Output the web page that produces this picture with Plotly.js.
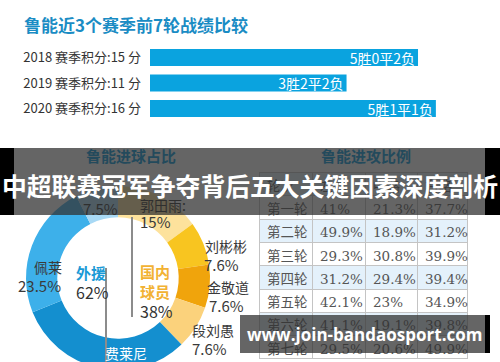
<!DOCTYPE html>
<html>
<head>
<meta charset="utf-8">
<script src="https://cdn.plot.ly/plotly-3.0.1.min.js"></script>
<style>
html,body{margin:0;padding:0;overflow:hidden;background:#fff;}
#chart{width:500px;height:380px;}
</style>
</head>
<body>
<div id="chart"></div>
<script>
// ---------- DATA ----------
const mainTitle = '中超联赛冠军争夺背后五大关键因素深度剖析';
const barTitle = '鲁能近3个赛季前7轮战绩比较';
const seasons = ['2018', '2019', '2020'];
const seasonPoints = [15, 11, 16];
const seasonRecords = ['5胜0平2负', '3胜2平2负', '5胜1平1负'];

const pieTitle = '鲁能进球占比';
const scorerNames = ['郭田雨', '刘彬彬', '金敬道', '段刘愚', '费莱尼', '佩莱', '莫伊塞斯'];
const scorerShares = [15, 7.6, 7.6, 7.6, 31, 23.5, 7.5];
const groupNames = ['外援', '国内<br>球员'];
const groupShares = [62, 38];

const tableTitle = '鲁能进攻比例';
const tableHeader = ['轮次', '左路', '中路', '右路'];
const rounds = ['第一轮', '第二轮', '第三轮', '第四轮', '第五轮', '第六轮', '第七轮'];
const leftShare = ['41%', '49.9%', '29.3%', '31.2%', '42.1%', '41.1%', '29.5%'];
const centerShare = ['21.3%', '18.9%', '30.8%', '29.4%', '23%', '19.1%', '20.6%'];
const rightShare = ['37.7%', '31.2%', '39.9%', '39.4%', '34.9%', '39.8%', '49.9%'];

const watermark = 'www.join-bandaosport.com';

// ---------- LAYOUT HELPERS ----------
const W = 500, H = 380;
const X = x => x / W;
const Y = y => 1 - y / H;
const CJK = '"Noto Sans CJK SC", "Noto Sans", sans-serif';
const BAND = 'rgba(50,50,50,0.75)';

// ---------- TRACES ----------
const bars = {
  type: 'bar', orientation: 'h',
  y: seasons.map((s, i) => s + ' 赛季积分:' + seasonPoints[i] + ' 分'),
  x: seasonPoints,
  width: 0.67,
  marker: {color: '#0aa3df', line: {width: 0}},
  text: seasonRecords,
  textposition: 'inside', insidetextanchor: 'end', constraintext: 'none',
  textfont: {family: CJK, size: 14, color: '#ffffff'},
  xaxis: 'x', yaxis: 'y', hoverinfo: 'none', cliponaxis: false
};

const pieColors = ['#fde29c', '#f8c520', '#f0a40c', '#fbd27c', '#148fcf', '#3db0ea', '#a8d9f5'];
const donut = {
  type: 'pie', labels: scorerNames, values: scorerShares,
  sort: false, direction: 'clockwise', rotation: 0, hole: 0.66,
  marker: {colors: pieColors, line: {width: 0}},
  textinfo: 'none', hoverinfo: 'none',
  domain: {x: [X(26), X(210)], y: [Y(370), Y(186)]}
};

const rowFill = ['#ffffff', '#e4f1fb', '#ffffff', '#e4f1fb', '#ffffff', '#e4f1fb', '#ffffff'];
const tableFont = {family: '"DejaVu Serif", ' + CJK, size: 13.5, color: '#555'};
const table = {
  type: 'table',
  domain: {x: [X(259), X(467)], y: [Y(379), Y(172.5)]},
  columnwidth: [53, 53, 52, 50],
  header: {
    values: tableHeader, height: 23.3, align: 'left',
    fill: {color: '#e4f1fb'}, line: {color: '#c4c4c4', width: 1},
    font: tableFont
  },
  cells: {
    values: [rounds, leftShare, centerShare, rightShare], height: 23.3, align: 'left',
    fill: {color: [rowFill, rowFill, rowFill, rowFill]},
    line: {color: '#c4c4c4', width: 1},
    font: tableFont
  }
};

// ---------- ANNOTATIONS ----------
const ann = [];
function txt(text, x, y, opt) {
  ann.push(Object.assign({
    text: text, xref: 'paper', yref: 'paper', x: X(x), y: Y(y),
    xanchor: 'left', yanchor: 'middle', showarrow: false,
    font: {family: CJK, size: 14, color: '#3a3a3a'}
  }, opt || {}));
}
txt('<b>' + barTitle + '</b>', 22, 25, {font: {family: CJK, size: 17, color: '#1a8cc4'}});

// donut labels: [nameX, nameY, valueX, valueY, nameColor, valueColor]; null = not visible
const labelPos = [
  [138, 205, 138, 221, '#2f2f2f', '#3a3a3a'],
  [203, 246, 202, 264, '#3a3a3a', '#3a3a3a'],
  [205, 287, 207, 305, '#3a3a3a', '#3a3a3a'],
  [190, 330, 190, 348, '#3a3a3a', '#3a3a3a'],
  [103, 353, null, null, '#ffffff', '#ffffff'],
  [32, 267, 16, 285, '#3a3a3a', '#3a3a3a'],
  [null, null, 81, 208, '#2f2f2f', '#2f2f2f']
];
scorerNames.forEach((n, i) => {
  const p = labelPos[i];
  if (p[0] !== null) txt(n + (i === 0 ? ':' : ''), p[0], p[1], {font: {family: CJK, size: 14, color: p[4]}});
  if (p[2] !== null) txt(scorerShares[i] + '%', p[2], p[3], {font: {family: CJK, size: 15, color: p[5]}});
});
// group labels
txt('<b>' + groupNames[0] + '</b>', 74, 272, {font: {family: CJK, size: 15, color: '#1a9ad6'}});
txt(groupShares[0] + '%', 74, 292, {font: {family: CJK, size: 16, color: '#333'}});
txt('<b>' + groupNames[1] + '</b>', 138, 281, {font: {family: CJK, size: 15, color: '#f2b233'}});
txt(groupShares[1] + '%', 138, 311, {font: {family: CJK, size: 16, color: '#333'}});

// section titles (under band, pre-darkened)
txt('<b>' + pieTitle + '</b>', 131, 155, {xanchor: 'center', font: {family: CJK, size: 15, color: '#234a5c'}});
txt('<b>' + tableTitle + '</b>', 366, 155, {xanchor: 'center', font: {family: CJK, size: 15, color: '#234a5c'}});

// overlay texts
txt('<b>' + mainTitle + '</b>', 250, 185, {xanchor: 'center', font: {family: CJK, size: 24.8, color: '#ffffff'}});
txt('<b>' + watermark + '</b>', 364, 334, {xanchor: 'center', font: {family: '"Open Sans", "DejaVu Sans", sans-serif', size: 17, color: '#ffffff'}});

// ---------- SHAPES ----------
function rect(x0, y0, x1, y1, color) {
  return {type: 'rect', xref: 'paper', yref: 'paper', x0: X(x0), x1: X(x1), y0: Y(y1), y1: Y(y0),
    fillcolor: color, line: {width: 0}, layer: 'above'};
}
function vline(x, y0, y1) {
  return {type: 'line', xref: 'paper', yref: 'paper', x0: X(x), x1: X(x), y0: Y(y1), y1: Y(y0),
    line: {color: '#8c8c8c', width: 2}, layer: 'above'};
}
const shapes = [
  vline(132, 217, 317),
  vline(106, 268, 380),
  rect(14, 148, 485, 215, BAND),
  rect(0, 148, 14, 215, '#000'),
  rect(485, 148, 500, 215, '#000'),
  rect(240, 315, 485, 353, BAND),
  rect(485, 315, 490, 353, '#000')
];

const layout = {
  width: W, height: H,
  margin: {l: 0, r: 0, t: 0, b: 0},
  paper_bgcolor: '#ffffff', plot_bgcolor: 'rgba(0,0,0,0)',
  showlegend: false,
  xaxis: {domain: [X(150), X(450)], range: [0, 16.79], showgrid: false, zeroline: false,
    showticklabels: false, showline: false, fixedrange: true},
  yaxis: {domain: [Y(121.25), Y(44.75)], type: 'category', range: [2.5, -0.5],
    showgrid: false, zeroline: false, showline: false, ticks: '', ticklabelstandoff: 8,
    tickfont: {family: CJK, size: 13, color: '#333'}, fixedrange: true},
  annotations: ann,
  shapes: shapes
};

Plotly.newPlot('chart', [bars, donut, table], layout, {displayModeBar: false, staticPlot: true});
</script>
</body>
</html>
